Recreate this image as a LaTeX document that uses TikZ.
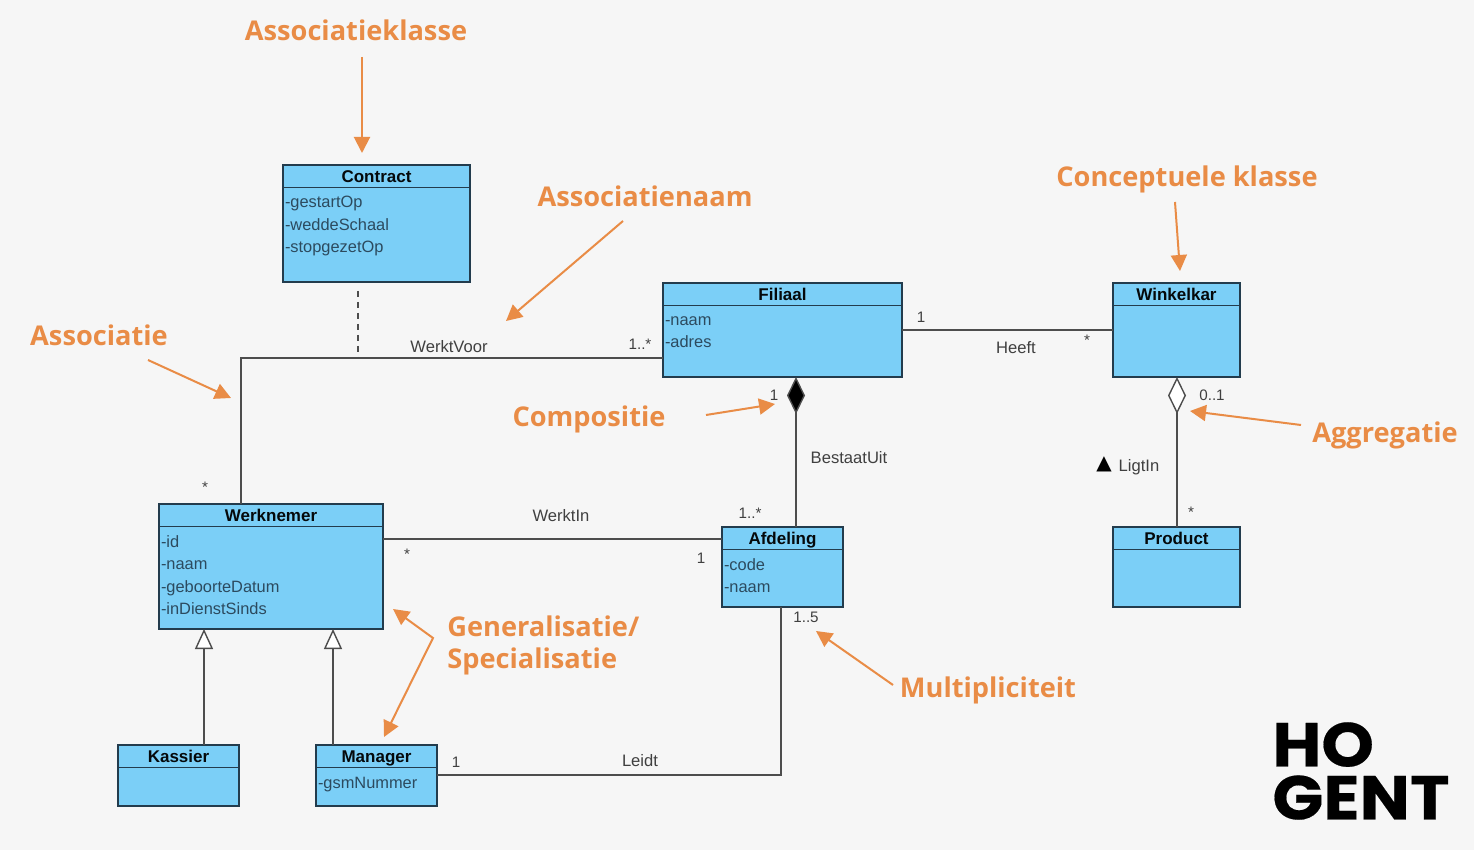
\documentclass[tikz,border=0pt]{standalone}
\usepackage{fontspec}
\setmainfont{Liberation Sans}
\newfontfamily\calloutfont{Open Sans}
\newfontfamily\logofont[FakeStretch=1.08,FakeBold=0.3]{Poppins}
\newfontfamily\symbfont{DejaVu Sans}
\usepackage{tikz}
\usetikzlibrary{positioning,arrows.meta,calc}
\definecolor{pageFill}{HTML}{f6f6f6}
\definecolor{classFill}{HTML}{7bcff7}
\definecolor{classStroke}{HTML}{233c4d}
\definecolor{attrText}{HTML}{2c4a5e}
\definecolor{lineCol}{HTML}{4d4d4d}
\definecolor{noteCol}{HTML}{e98c46}

\begin{document}
\begin{tikzpicture}[
  x=0.5pt, y=-0.5pt,
  font=\fontsize{8}{10}\selectfont,
  umlbox/.style={draw=classStroke, fill=classFill, line width=0.7pt, anchor=north west,
                 inner sep=0pt, outer sep=0pt},
  umlhead/.style={draw=classStroke, line width=0.7pt, anchor=north, minimum height=11.2pt,
                  inner sep=0pt, outer sep=0pt, text=black!85!classStroke,
                  text height=7pt, text depth=0.6pt,
                  font=\fontsize{8.5}{10}\selectfont\bfseries},
  attrs/.style={anchor=north west, align=left, inner sep=0pt, outer sep=0pt, text=attrText,
                font=\fontsize{8.2}{11.25}\selectfont},
  rel/.style={draw=lineCol, line width=0.7pt},
  relnote/.style={inner sep=0pt, text=black!75, font=\fontsize{8.3}{9}\selectfont},
  multnote/.style={inner sep=0pt, text=black!75, font=\fontsize{7.6}{9}\selectfont},
  gen/.style={rel, -{Triangle[open, fill=white, length=10pt, width=9pt]}},
  comp/.style={rel, {Diamond[fill=black, length=18.5pt, width=9pt]}-},
  aggr/.style={rel, {Diamond[open, fill=white, length=18.5pt, width=9pt]}-},
  callout/.style={draw=noteCol, line width=1pt, -{Triangle[length=8pt, width=8pt]}},
  note/.style={inner sep=0pt, anchor=base, text=noteCol,
               font=\calloutfont\fontsize{13.6}{16.4}\selectfont\bfseries}
]
\useasboundingbox (0,0) rectangle (1474,850);
\fill[pageFill] (0,0) rectangle (1474,850);

% ============ CLASSES ============
\node[umlbox, minimum width=93.5pt, minimum height=58.5pt] (contract) at (283,165) {};
\node[umlhead, minimum width=93.5pt, at=(contract.north)] (contractHead) {Contract};
\node[attrs, below right=4.5pt and 1pt of contractHead.south west, anchor=north west] (contractAttrs)
  {-gestartOp\\-weddeSchaal\\-stopgezetOp};

\node[umlbox, minimum width=119.5pt, minimum height=47pt] (filiaal) at (663,283) {};
\node[umlhead, minimum width=119.5pt, at=(filiaal.north)] (filiaalHead) {Filiaal};
\node[attrs, below right=5.5pt and 1pt of filiaalHead.south west, anchor=north west] (filiaalAttrs)
  {-naam\\-adres};

\node[umlbox, minimum width=63.5pt, minimum height=47pt] (winkelkar) at (1113,283) {};
\node[umlhead, minimum width=63.5pt, at=(winkelkar.north)] (winkelkarHead) {Winkelkar};

\node[umlbox, minimum width=112pt, minimum height=62.5pt] (werknemer) at (159,504) {};
\node[umlhead, minimum width=112pt, at=(werknemer.north)] (werknemerHead) {Werknemer};
\node[attrs, below right=4.5pt and 1pt of werknemerHead.south west, anchor=north west] (werknemerAttrs)
  {-id\\-naam\\-geboorteDatum\\-inDienstSinds};

\node[umlbox, minimum width=60.5pt, minimum height=40pt] (afdeling) at (722,527) {};
\node[umlhead, minimum width=60.5pt, at=(afdeling.north)] (afdelingHead) {Afdeling};
\node[attrs, below right=4.5pt and 1pt of afdelingHead.south west, anchor=north west] (afdelingAttrs)
  {-code\\-naam};

\node[umlbox, minimum width=63.5pt, minimum height=40pt] (product) at (1113,527) {};
\node[umlhead, minimum width=63.5pt, at=(product.north)] (productHead) {Product};

\node[umlbox, minimum width=60.5pt, minimum height=30.5pt] (kassier) at (118,745) {};
\node[umlhead, minimum width=60.5pt, at=(kassier.north)] (kassierHead) {Kassier};

\node[umlbox, minimum width=60.5pt, minimum height=30.5pt] (manager) at (316,745) {};
\node[umlhead, minimum width=60.5pt, at=(manager.north)] (managerHead) {Manager};
\node[attrs, below right=5pt and 1pt of managerHead.south west, anchor=north west] (managerAttrs)
  {-gsmNummer};

% ============ RELATIONS ============
\coordinate (bend) at (241,358);
\draw[rel] (werknemer.north -| bend) -- (bend) -- (bend -| filiaal.west);
\draw[rel, dashed, dash pattern=on 3pt off 2.5pt] ([yshift=-4.5pt]contract.south -| 358,0) -- (358,358);
\draw[rel] (filiaal.east |- 0,330) -- (winkelkar.west |- 0,330);
\draw[comp] (filiaal.south -| 796,0) -- (afdeling.north -| 796,0);
\draw[aggr] ([xshift=0.25pt]winkelkar.south) -- ([xshift=0.25pt]product.north);
\draw[rel] (werknemer.east |- 0,539) -- (afdeling.west |- 0,539);
\draw[rel] (afdeling.south -| 781,0) |- (manager.east |- 0,775);
\draw[gen] (kassier.north -| 204,0) -- (werknemer.south -| 204,0);
\draw[gen] (manager.north -| 333,0) -- (werknemer.south -| 333,0);

% ============ RELATION LABELS ============
\node[relnote] (werktVoor) at (449,347) {WerktVoor};
\node[multnote] (multFiliaal) at (640,344) {1..*};
\node[multnote] (multHeeftA) at (921,317) {1};
\node[multnote] (multHeeftB) at (1087,340) {*};
\node[relnote] (heeft) at (1016,348) {Heeft};
\node[multnote] (multComp) at (774,395) {1};
\node[relnote] (bestaatUit) at (849,458) {BestaatUit};
\node[multnote] (multAfd) at (750,513) {1..*};
\node[multnote] (multWerktInB) at (701,558) {1};
\node[multnote] (multWerkn) at (205,487) {*};
\node[multnote] (multWerktInA) at (407,554) {*};
\node[relnote] (werktIn) at (561,516) {WerktIn};
\node[relnote] (leidt) at (640,761) {Leidt};
\node[multnote] (multLeidtA) at (456,762) {1};
\node[multnote] (multLeidtB) at (806,617) {1..5};
\node[multnote] (multAggr) at (1212,395) {0..1};
\node[relnote] (ligtIn) at (1139,467) {LigtIn};
\node[relnote, text=black, font=\symbfont\fontsize{10}{10}\selectfont] (ligtInDir) at (1104,464) {▲};
\node[multnote] (multProd) at (1191,512) {*};

% ============ CALLOUTS ============
\node[note] (noteKlasse) at (356,41) {Associatieklasse};
\node[note] (noteNaam) at (645,207) {Associatienaam};
\node[note] (noteConcept) at (1187,187) {Conceptuele klasse};
\node[note] (noteAssoc) at (99,346) {Associatie};
\node[note] (noteComp) at (589,427) {Compositie};
\node[note] (noteAggr) at (1385,443) {Aggregatie};
\node[note, align=left, anchor=north west] (noteGen) at (447,615) {Generalisatie/\\Specialisatie};
\node[note] (noteMult) at (988,697) {Multipliciteit};

\coordinate (tipKlasse) at (362,153);
\coordinate (tipNaam) at (506,321);
\coordinate (tipConcept) at (1180,271);
\coordinate (tipAssoc) at (231,398);
\coordinate (tipComp) at (775,404);
\coordinate (tipAggr) at (1190,411);
\coordinate (tipMult) at (816,631);
\coordinate (tipGenA) at (393,609);
\coordinate (tipGenB) at (384,737);
\coordinate (elbowGen) at (433,638);

\draw[callout] ([xshift=3pt,yshift=-8pt]noteKlasse.base) -- (tipKlasse);
\draw[callout] ([xshift=-11pt,yshift=-7pt]noteNaam.base) -- (tipNaam);
\draw[callout] ([xshift=-6pt,yshift=-7.5pt]noteConcept.base) -- (tipConcept);
\draw[callout] ([xshift=24.5pt,yshift=-7pt]noteAssoc.base) -- (tipAssoc);
\draw[callout] ([xshift=58.5pt,yshift=6pt]noteComp.base) -- (tipComp);
\draw[callout] ([xshift=-42pt,yshift=9pt]noteAggr.base) -- (tipAggr);
\draw[callout] ([xshift=-47.5pt,yshift=6pt]noteMult.base) -- (tipMult);
\draw[callout, {Triangle[length=8pt, width=8pt]}-{Triangle[length=8pt, width=8pt]}]
  (tipGenA) -- (elbowGen) -- (tipGenB);

% ============ LOGO ============
\node[inner sep=0pt, anchor=west, align=left, font=\logofont\fontsize{31}{26.5}\selectfont\bfseries] (logo) at (1272,771) {HO\\GENT};
\end{tikzpicture}
\end{document}
